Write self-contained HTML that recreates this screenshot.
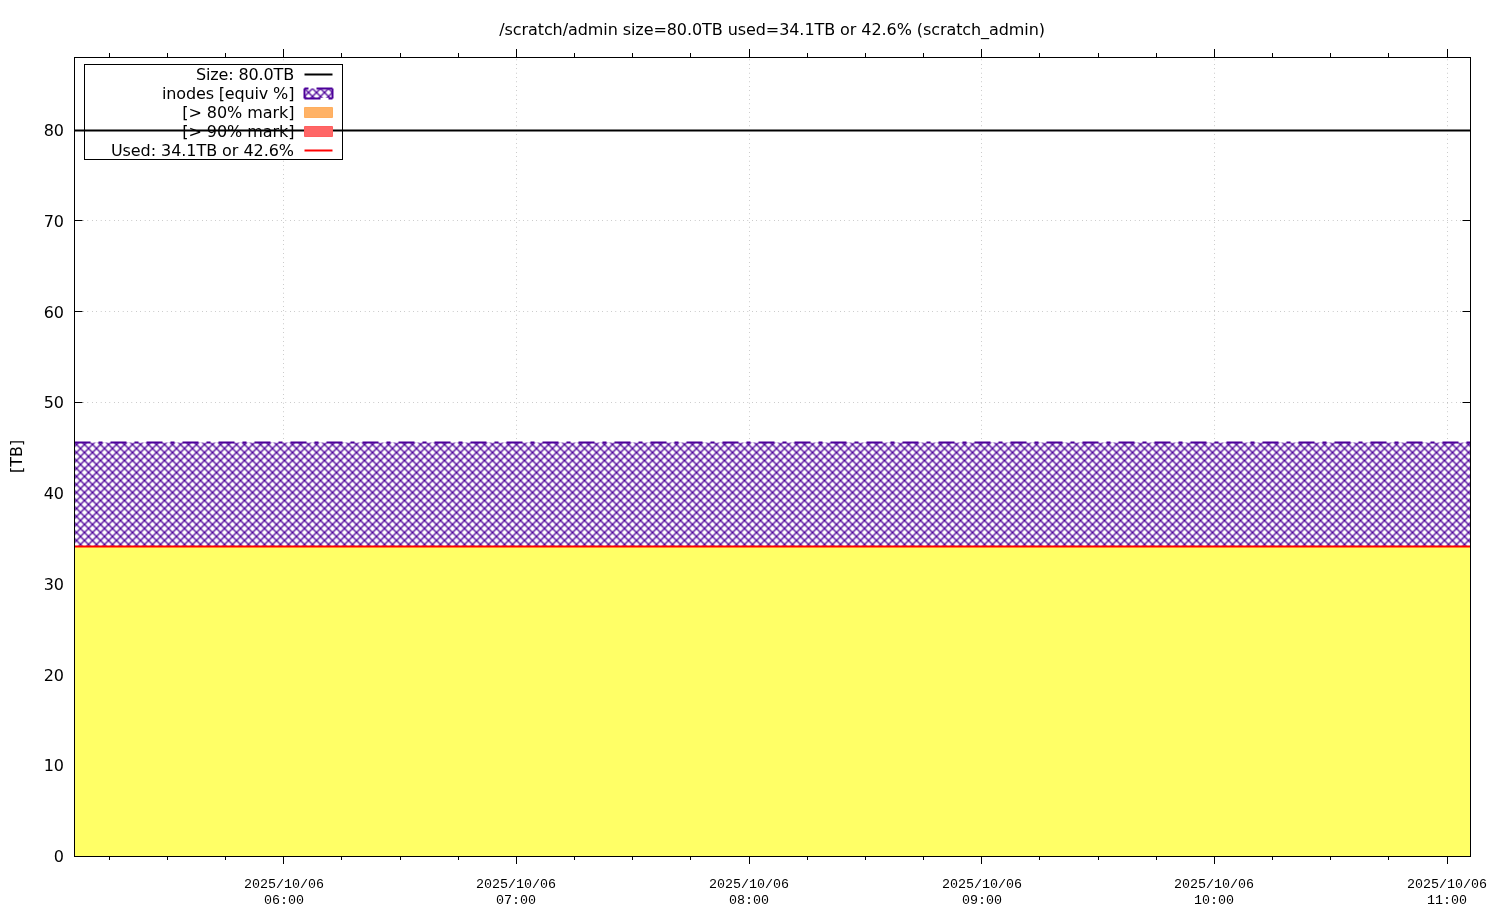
<!DOCTYPE html>
<html lang="en">
<head>
<meta charset="utf-8">
<title>/scratch/admin usage</title>
<style>
html,body{margin:0;padding:0;background:#fff;}
body{width:1500px;height:920px;overflow:hidden;}
svg{display:block;}
.s{font-family:"DejaVu Sans","Liberation Sans",sans-serif;font-size:16px;fill:#000;}
.m{font-family:"Liberation Mono","DejaVu Sans Mono",monospace;font-size:13.33px;fill:#000;}
.ax{stroke:#000;stroke-width:1;fill:none;}
.gr{stroke:#000;stroke-opacity:0.5;stroke-width:1;stroke-dasharray:0.4 4;fill:none;}
</style>
</head>
<body>
<svg width="1500" height="920" viewBox="0 0 1500 920">
<defs>
<pattern id="hatch" x="0.5" y="0.5" width="8" height="8" patternUnits="userSpaceOnUse"><rect x="0" y="0" width="8" height="8" fill="#fff"/><path d="M-2,-2L10,10M-2,10L10,-2" stroke="#4c0099" stroke-width="1.3" fill="none"/></pattern>
</defs>
<rect x="0" y="0" width="1500" height="920" fill="#fff"/>
<text class="s" x="499.2" y="34.5" textLength="545.8" lengthAdjust="spacing">/scratch/admin size=80.0TB used=34.1TB or 42.6% (scratch_admin)</text>
<g class="gr">
<path d="M74.5,765.5H1470.5"/>
<path d="M74.5,674.5H1470.5"/>
<path d="M74.5,584.5H1470.5"/>
<path d="M74.5,493.5H1470.5"/>
<path d="M74.5,402.5H1470.5"/>
<path d="M74.5,311.5H1470.5"/>
<path d="M74.5,220.5H1470.5"/>
<path d="M74.5,130.5H1470.5"/>
<path d="M283.5,856.5V57.5"/>
<path d="M516.5,856.5V57.5"/>
<path d="M749.5,856.5V57.5"/>
<path d="M981.5,856.5V57.5"/>
<path d="M1214.5,856.5V57.5"/>
<path d="M1447.5,856.5V57.5"/>
</g>
<path class="ax" d="M74.5,856.5H82.5M1470.5,856.5H1462.5M74.5,765.5H82.5M1470.5,765.5H1462.5M74.5,674.5H82.5M1470.5,674.5H1462.5M74.5,584.5H82.5M1470.5,584.5H1462.5M74.5,493.5H82.5M1470.5,493.5H1462.5M74.5,402.5H82.5M1470.5,402.5H1462.5M74.5,311.5H82.5M1470.5,311.5H1462.5M74.5,220.5H82.5M1470.5,220.5H1462.5M74.5,130.5H82.5M1470.5,130.5H1462.5M283.5,856.5V864M283.5,57.5V49M516.5,856.5V864M516.5,57.5V49M749.5,856.5V864M749.5,57.5V49M981.5,856.5V864M981.5,57.5V49M1214.5,856.5V864M1214.5,57.5V49M1447.5,856.5V864M1447.5,57.5V49M109.5,856.5V860M109.5,57.5V53M167.5,856.5V860M167.5,57.5V53M225.5,856.5V860M225.5,57.5V53M341.5,856.5V860M341.5,57.5V53M400.5,856.5V860M400.5,57.5V53M458.5,856.5V860M458.5,57.5V53M574.5,856.5V860M574.5,57.5V53M632.5,856.5V860M632.5,57.5V53M690.5,856.5V860M690.5,57.5V53M807.5,856.5V860M807.5,57.5V53M865.5,856.5V860M865.5,57.5V53M923.5,856.5V860M923.5,57.5V53M1039.5,856.5V860M1039.5,57.5V53M1098.5,856.5V860M1098.5,57.5V53M1156.5,856.5V860M1156.5,57.5V53M1272.5,856.5V860M1272.5,57.5V53M1330.5,856.5V860M1330.5,57.5V53M1388.5,856.5V860M1388.5,57.5V53"/>
<rect x="84.5" y="64.5" width="258" height="95" style="fill:#fff;stroke:#000;stroke-width:1"/>
<text class="s" x="195.9" y="80.0" textLength="98.3" lengthAdjust="spacing">Size: 80.0TB</text>
<path d="M304.5,74.5H332.5" stroke="#000" stroke-width="2" fill="none"/>
<path d="M74,130.5H1470.5" stroke="#000" stroke-width="2" fill="none"/>
<text class="s" x="162.0" y="99.0" textLength="132.4" lengthAdjust="spacing">inodes [equiv %]</text>
<rect x="304.5" y="88.5" width="28" height="9.5" fill="url(#hatch)"/>
<g stroke="#4c0099" stroke-width="2" fill="none" stroke-dasharray="16 8 4 8"><path d="M304.5,98.5H332.5"/><path d="M332.5,98.5V88.5"/><path d="M332.5,88.5H304.5"/><path d="M304.5,88.5V98.5"/></g>
<rect x="74.5" y="442.5" width="1396.0" height="104" fill="url(#hatch)"/>
<path d="M74.5,442.5H1470.5" stroke="#4c0099" stroke-width="2" fill="none" stroke-dasharray="16 8 4 8"/>
<text class="s" x="182.2" y="118.0" textLength="112.2" lengthAdjust="spacing">[&gt; 80% mark]</text>
<rect x="304" y="107" width="29" height="11" rx="1.2" fill="#ffb266"/>
<rect x="304.5" y="107.5" width="28" height="10" rx="0.8" fill="none" stroke="#ffae5e" stroke-width="1"/>
<text class="s" x="182.2" y="137.0" textLength="112.2" lengthAdjust="spacing">[&gt; 90% mark]</text>
<rect x="304" y="126" width="29" height="11" rx="1.2" fill="#ff6666"/>
<rect x="304.5" y="126.5" width="28" height="10" rx="0.8" fill="none" stroke="#ff5e5e" stroke-width="1"/>
<rect x="74.5" y="546.5" width="1396.0" height="310.0" fill="#ffff66"/>
<text class="s" x="110.9" y="156.0" textLength="183.1" lengthAdjust="spacing">Used: 34.1TB or 42.6%</text>
<path d="M304.5,150.5H332.5" stroke="#f00" stroke-width="2" fill="none"/>
<path d="M74.5,546.5H1470.5" stroke="#f00" stroke-width="2" fill="none"/>
<rect class="ax" x="74.5" y="57.5" width="1396.0" height="799.0"/>
<text class="s" x="64" y="862" text-anchor="end">0</text>
<text class="s" x="64" y="771" text-anchor="end">10</text>
<text class="s" x="64" y="681" text-anchor="end">20</text>
<text class="s" x="64" y="590" text-anchor="end">30</text>
<text class="s" x="64" y="499" text-anchor="end">40</text>
<text class="s" x="64" y="408" text-anchor="end">50</text>
<text class="s" x="64" y="318" text-anchor="end">60</text>
<text class="s" x="64" y="227" text-anchor="end">70</text>
<text class="s" x="64" y="136" text-anchor="end">80</text>
<text class="s" transform="translate(21.5,456.5) rotate(-90)" text-anchor="middle">[TB]</text>
<text class="m" x="244" y="888">2025/10/06</text>
<text class="m" x="264" y="903.7">06:00</text>
<text class="m" x="476" y="888">2025/10/06</text>
<text class="m" x="496" y="903.7">07:00</text>
<text class="m" x="709" y="888">2025/10/06</text>
<text class="m" x="729" y="903.7">08:00</text>
<text class="m" x="942" y="888">2025/10/06</text>
<text class="m" x="962" y="903.7">09:00</text>
<text class="m" x="1174" y="888">2025/10/06</text>
<text class="m" x="1194" y="903.7">10:00</text>
<text class="m" x="1407" y="888">2025/10/06</text>
<text class="m" x="1427" y="903.7">11:00</text>
</svg>
</body>
</html>
